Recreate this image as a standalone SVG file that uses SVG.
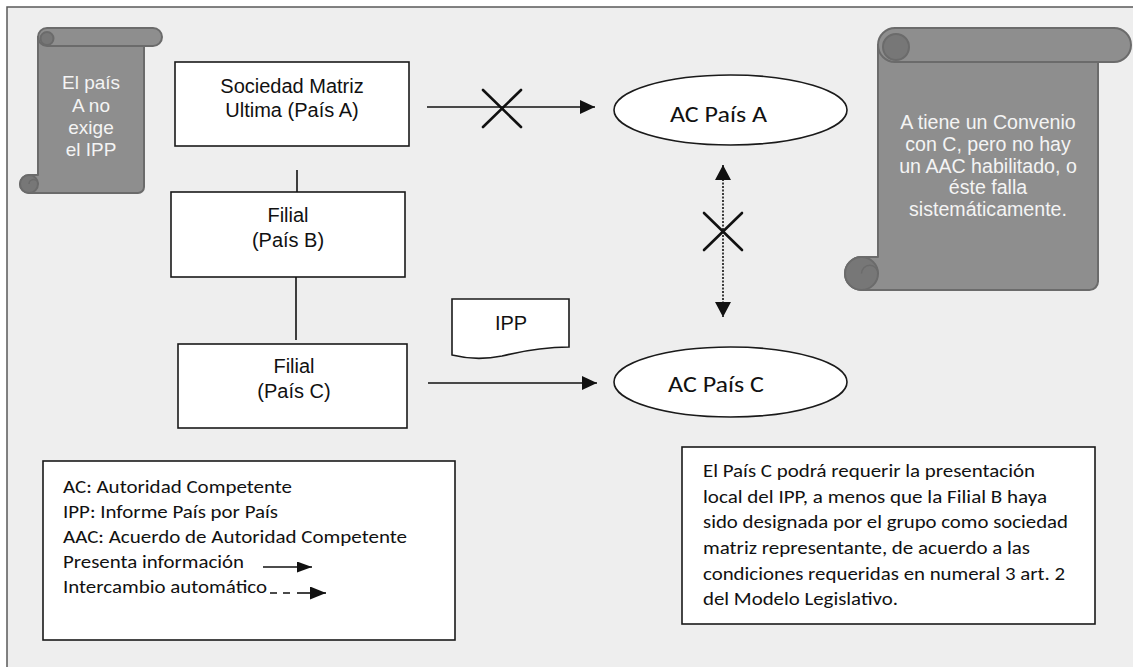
<svg xmlns="http://www.w3.org/2000/svg" width="1133" height="667" viewBox="0 0 1133 667">
<defs>
<style>
.bg{fill:#eeeeee;stroke:#5a5a5a;stroke-width:1.5}
.box{fill:#ffffff;stroke:#1a1a1a;stroke-width:1.6}
.ar{font-family:'Liberation Sans',Arial,Helvetica,sans-serif;font-size:20px;fill:#111;text-anchor:middle}
.cal{font-family:Calibri,Carlito,Lato,'Liberation Sans',sans-serif;fill:#111}
.scroll{fill:#8e8e8e;stroke:#6b6b6b;stroke-width:2;stroke-linejoin:round}
.curl{fill:#777777;stroke:#6b6b6b;stroke-width:2}
.stxt{font-family:'Liberation Sans',Arial,Helvetica,sans-serif;fill:#f4f4f4;text-anchor:middle}
.line{stroke:#111;stroke-width:1.6;fill:none}
.cross{stroke:#111;stroke-width:2.6;stroke-linecap:round}
</style>
<marker id="arr" viewBox="0 0 15 14" refX="15" refY="7" markerWidth="15" markerHeight="14" markerUnits="userSpaceOnUse" orient="auto-start-reverse">
<path d="M0,0 L15,7 L0,14 Z" fill="#111"/>
</marker>
<marker id="arrV" viewBox="0 0 15 16" refX="15" refY="8" markerWidth="15" markerHeight="16" markerUnits="userSpaceOnUse" orient="auto-start-reverse">
<path d="M0,0 L15,8 L0,16 Z" fill="#111"/>
</marker>
<marker id="arrS" viewBox="0 0 15 11" refX="15" refY="5.5" markerWidth="15" markerHeight="11" markerUnits="userSpaceOnUse" orient="auto">
<path d="M0,0 L15,5.5 L0,11 Z" fill="#111"/>
</marker>
<marker id="arrS2" viewBox="0 0 16 13" refX="16" refY="6.5" markerWidth="16" markerHeight="13" markerUnits="userSpaceOnUse" orient="auto">
<path d="M0,0 L16,6.5 L0,13 Z" fill="#111"/>
</marker>
</defs>

<rect x="0" y="0" width="1133" height="667" fill="#ffffff"/>
<rect class="bg" x="7" y="7" width="1140" height="680"/>

<g id="scroll-left">
<path class="scroll" d="M38,37 H144 V187 A6,6 0 0 1 138,193 H29 A9,9 0 0 1 29,175 H38 Z"/>
<circle class="curl" cx="29" cy="184" r="9"/>
<path d="M38,184 A4.5,4.5 0 0 0 29,184" fill="none" stroke="#6b6b6b" stroke-width="1.5"/>
<rect class="scroll" x="38" y="28" width="124" height="18" rx="9"/>
<circle class="curl" cx="47" cy="38.5" r="6.5"/>
<text class="stxt" font-size="19" x="91" y="89">El país</text>
<text class="stxt" font-size="19" x="91" y="112">A no</text>
<text class="stxt" font-size="19" x="91" y="134">exige</text>
<text class="stxt" font-size="19" x="91" y="156">el IPP</text>
</g>

<g id="scroll-right">
<path class="scroll" d="M878,45 H1098 V281.5 A8.5,8.5 0 0 1 1089.5,290 H861.5 A16.5,16.5 0 0 1 861.5,257 H878 Z"/>
<circle class="curl" cx="861.5" cy="273.5" r="16.5"/>
<path d="M878,273.5 A8.25,8.25 0 0 0 861.5,273.5" fill="none" stroke="#6b6b6b" stroke-width="1.5"/>
<rect class="scroll" x="878" y="28" width="253" height="34" rx="17"/>
<circle class="curl" cx="896" cy="47" r="13"/>
<text class="stxt" font-size="19.6" x="988" y="129">A tiene un Convenio</text>
<text class="stxt" font-size="19.6" x="988" y="151">con C, pero no hay</text>
<text class="stxt" font-size="19.6" x="988" y="173">un AAC habilitado, o</text>
<text class="stxt" font-size="19.6" x="988" y="194">éste falla</text>
<text class="stxt" font-size="19.6" x="988" y="216">sistemáticamente.</text>
</g>

<g id="node-matriz">
<rect class="box" x="175" y="62" width="234" height="84"/>
<text class="ar" x="292" y="93">Sociedad Matriz</text>
<text class="ar" x="292" y="117">Ultima (País A)</text>
</g>

<g id="node-filial-b">
<rect class="box" x="171" y="192" width="234" height="85"/>
<text class="ar" x="288" y="222">Filial</text>
<text class="ar" x="288" y="247">(País B)</text>
</g>

<g id="node-filial-c">
<rect class="box" x="178" y="344" width="229" height="84"/>
<text class="ar" x="294" y="373">Filial</text>
<text class="ar" x="294" y="398">(País C)</text>
</g>

<g id="node-ipp">
<path class="box" d="M452,299 H569 V347 C545,347 522,351 502,356 C482,360 464,358 452,355 Z"/>
<text class="ar" x="511" y="330">IPP</text>
</g>

<g id="node-ac-a">
<ellipse class="box" cx="730.5" cy="110" rx="116.5" ry="35"/>
<text class="cal" font-size="23" x="670" y="122" textLength="97" lengthAdjust="spacingAndGlyphs">AC País A</text>
</g>

<g id="node-ac-c">
<ellipse class="box" cx="730.5" cy="382" rx="116.5" ry="35"/>
<text class="cal" font-size="23" x="668" y="392" textLength="96" lengthAdjust="spacingAndGlyphs">AC País C</text>
</g>

<g id="legend">
<rect class="box" x="43" y="461" width="412" height="179"/>
<text class="cal" font-size="17.5" x="63" y="493" textLength="229" lengthAdjust="spacingAndGlyphs">AC: Autoridad Competente</text>
<text class="cal" font-size="17.5" x="63" y="518" textLength="215" lengthAdjust="spacingAndGlyphs">IPP: Informe País por País</text>
<text class="cal" font-size="17.5" x="63" y="543" textLength="344" lengthAdjust="spacingAndGlyphs">AAC: Acuerdo de Autoridad Competente</text>
<text class="cal" font-size="17.5" x="63" y="568" textLength="181" lengthAdjust="spacingAndGlyphs">Presenta información</text>
<text class="cal" font-size="17.5" x="63" y="593" textLength="204" lengthAdjust="spacingAndGlyphs">Intercambio automático</text>
<line class="line" x1="263" y1="567" x2="312" y2="567" marker-end="url(#arrS)"/>
<line class="line" x1="270" y1="593" x2="291" y2="593" stroke-dasharray="7 6"/>
<line class="line" x1="297" y1="593" x2="326" y2="593" marker-end="url(#arrS2)"/>
</g>

<g id="note">
<rect class="box" x="682" y="447" width="413" height="177"/>
<text class="cal" font-size="17.5" x="703" y="477" textLength="332" lengthAdjust="spacingAndGlyphs">El País C podrá requerir la presentación</text>
<text class="cal" font-size="17.5" x="703" y="503" textLength="344" lengthAdjust="spacingAndGlyphs">local del IPP, a menos que la Filial B haya</text>
<text class="cal" font-size="17.5" x="703" y="528" textLength="365" lengthAdjust="spacingAndGlyphs">sido designada por el grupo como sociedad</text>
<text class="cal" font-size="17.5" x="703" y="554" textLength="327" lengthAdjust="spacingAndGlyphs">matriz representante, de acuerdo a las</text>
<text class="cal" font-size="17.5" x="703" y="580" textLength="362" lengthAdjust="spacingAndGlyphs">condiciones requeridas en numeral 3 art. 2</text>
<text class="cal" font-size="17.5" x="703" y="605" textLength="195" lengthAdjust="spacingAndGlyphs">del Modelo Legislativo.</text>
</g>

<g id="connectors">
<line class="line" x1="297" y1="170" x2="297" y2="192"/>
<line class="line" x1="296" y1="277" x2="296" y2="340"/>
<line class="line" x1="427" y1="107" x2="595" y2="107" marker-end="url(#arr)"/>
<line class="cross" x1="483" y1="90" x2="521" y2="127"/>
<line class="cross" x1="483" y1="127" x2="521" y2="90"/>
<line class="line" x1="428" y1="383" x2="597" y2="383" marker-end="url(#arr)"/>
<line class="line" x1="723" y1="165" x2="723" y2="317" stroke-dasharray="2 1.5" marker-start="url(#arrV)" marker-end="url(#arrV)"/>
<line class="cross" x1="704" y1="213" x2="742" y2="250"/>
<line class="cross" x1="704" y1="250" x2="742" y2="213"/>
</g>
</svg>
